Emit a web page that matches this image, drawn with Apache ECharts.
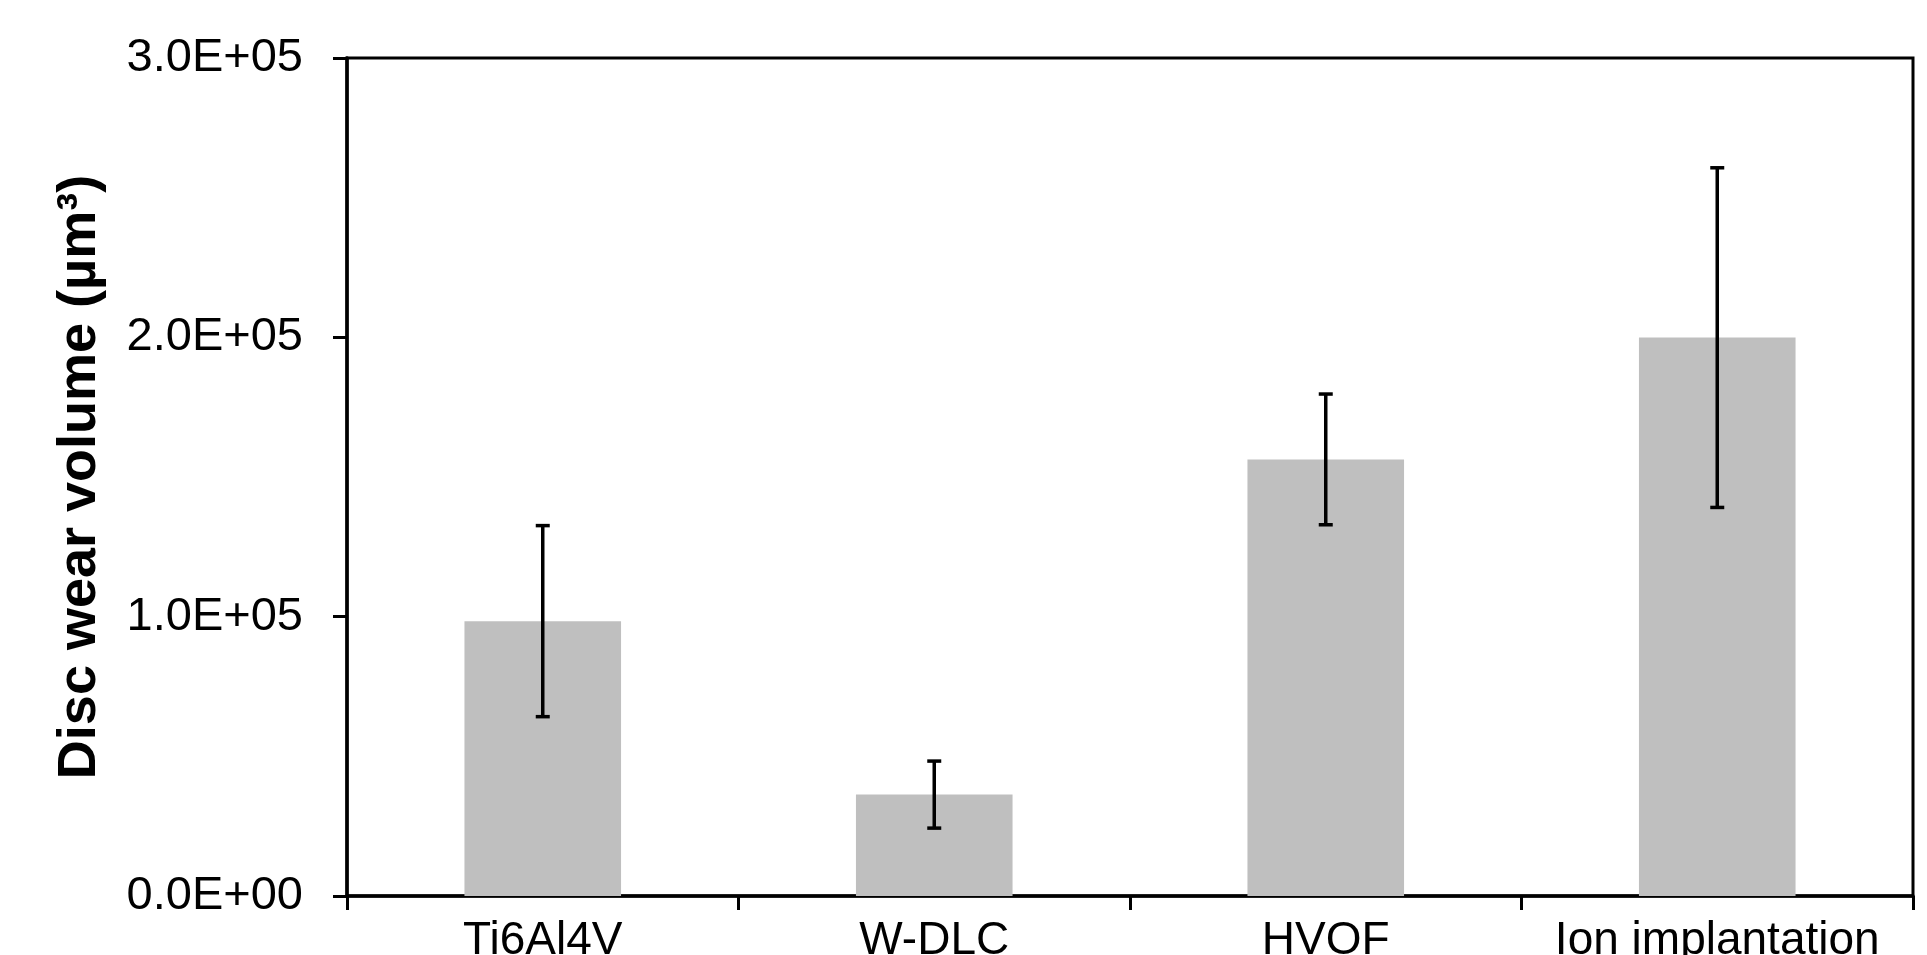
<!DOCTYPE html>
<html>
<head>
<meta charset="utf-8">
<script src="https://cdn.jsdelivr.net/npm/echarts@6/dist/echarts.min.js"></script>
<style>
html,body{margin:0;padding:0;background:#fff;}
#chart{width:1927px;height:955px;}
</style>
</head>
<body>
<div id="chart"></div>
<script>
const categories = ['Ti6Al4V', 'W-DLC', 'HVOF', 'Ion implantation'];
const wearVolume = [98400, 36300, 156300, 199900];
const wearError = [34200, 12000, 23400, 60800];
const yTicks = [0, 100000, 200000, 300000];

function sci(v) {
  if (v === 0) return '0.0E+00';
  const e = Math.floor(Math.log10(Math.abs(v)));
  const m = v / Math.pow(10, e);
  const es = (e < 0 ? '-' : '+') + String(Math.abs(e)).padStart(2, '0');
  return m.toFixed(1) + 'E' + es;
}

const errData = categories.map((c, i) => [i, wearVolume[i] - wearError[i], wearVolume[i] + wearError[i]]);

const chart = echarts.init(document.getElementById('chart'));
const font = '"Liberation Sans", Arial, sans-serif';
chart.setOption({
  animation: false,
  backgroundColor: '#fff',
  grid: {
    left: 347, right: 14, top: 58, bottom: 59,
    outerBoundsMode: 'none',
    containLabel: false,
    show: true, borderColor: '#000', borderWidth: 3
  },
  xAxis: {
    type: 'category',
    data: categories,
    axisLine: { show: true, lineStyle: { color: '#000', width: 3.5 } },
    axisTick: { show: true, length: 14, lineStyle: { color: '#000', width: 3 } },
    axisLabel: { color: '#000', fontSize: 46, fontFamily: font, margin: 22, interval: 0 },
    splitLine: { show: false }
  },
  yAxis: {
    type: 'value',
    min: yTicks[0], max: yTicks[yTicks.length - 1], interval: yTicks[1] - yTicks[0],
    name: 'Disc wear volume (µm³)',
    nameLocation: 'middle',
    nameRotate: 90,
    nameGap: 240,
    nameMoveOverlap: false,
    nameTextStyle: { color: '#000', fontSize: 54, fontWeight: 'bold', fontFamily: font },
    axisLine: { show: true, lineStyle: { color: '#000', width: 3.5 } },
    axisTick: { show: true, length: 14, lineStyle: { color: '#000', width: 3 } },
    axisLabel: { color: '#000', fontSize: 47, fontFamily: font, margin: 44, formatter: sci },
    splitLine: { show: false }
  },
  series: [
    {
      type: 'bar',
      data: wearVolume,
      barWidth: '40%',
      itemStyle: { color: '#bfbfbf' },
      z: 2
    },
    {
      type: 'custom',
      data: errData,
      z: 5,
      renderItem: function (params, api) {
        const i = api.value(0);
        const lo = api.coord([i, api.value(1)]);
        const hi = api.coord([i, api.value(2)]);
        const hw = 7;
        const st = { stroke: '#000', lineWidth: 3.5 };
        return {
          type: 'group',
          children: [
            { type: 'line', shape: { x1: hi[0], y1: hi[1], x2: lo[0], y2: lo[1] }, style: st },
            { type: 'line', shape: { x1: hi[0] - hw, y1: hi[1], x2: hi[0] + hw, y2: hi[1] }, style: st },
            { type: 'line', shape: { x1: lo[0] - hw, y1: lo[1], x2: lo[0] + hw, y2: lo[1] }, style: st }
          ]
        };
      }
    }
  ]
});
</script>
</body>
</html>
